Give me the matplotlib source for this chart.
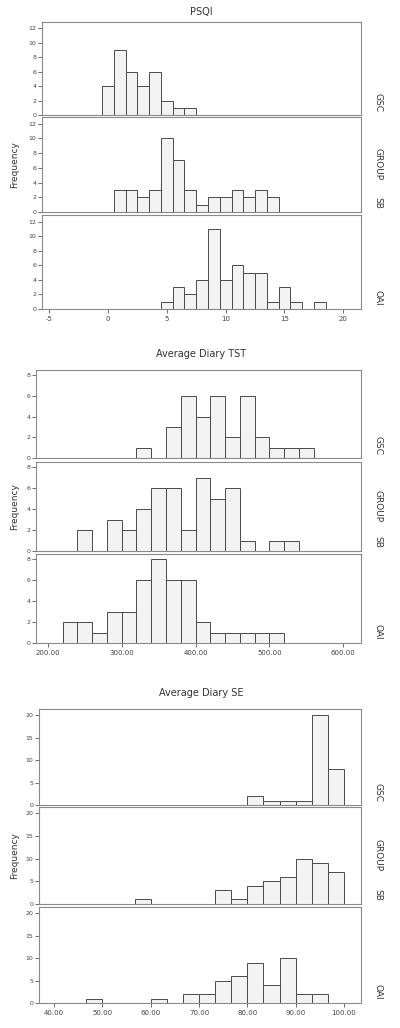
import matplotlib
matplotlib.use('Agg')
import matplotlib.pyplot as plt

groups = ['GSC', 'SB', 'OAI']

# PSQI, bins of width 1 centred on the integer scores
psqi_centers = [0, 1, 2, 3, 4, 5, 6, 7, 8, 9, 10, 11, 12, 13, 14, 15, 16, 17, 18]
psqi_gsc = [4, 9, 6, 4, 6, 2, 1, 1, 0, 0, 0, 0, 0, 0, 0, 0, 0, 0, 0]
psqi_sb = [0, 3, 3, 2, 3, 10, 7, 3, 1, 2, 2, 3, 2, 3, 2, 0, 0, 0, 0]
psqi_oai = [0, 0, 0, 0, 0, 1, 3, 2, 4, 11, 4, 6, 5, 5, 1, 3, 1, 0, 1]

# Average diary TST, left bin edges (width 20)
tst_left = [220, 240, 260, 280, 300, 320, 340, 360, 380, 400, 420, 440, 460, 480, 500, 520, 540]
tst_gsc = [0, 0, 0, 0, 0, 1, 0, 3, 6, 4, 6, 2, 6, 2, 1, 1, 1]
tst_sb = [0, 2, 0, 3, 2, 4, 6, 6, 2, 7, 5, 6, 1, 0, 1, 1, 0]
tst_oai = [2, 2, 1, 3, 3, 6, 8, 6, 6, 2, 1, 1, 1, 1, 1, 0, 0]

# Average diary SE, left bin edges (width 10/3)
se_left = [46.667, 50.0, 53.333, 56.667, 60.0, 63.333, 66.667, 70.0, 73.333,
           76.667, 80.0, 83.333, 86.667, 90.0, 93.333, 96.667]
se_gsc = [0, 0, 0, 0, 0, 0, 0, 0, 0, 0, 2, 1, 1, 1, 20, 8]
se_sb = [0, 0, 0, 1, 0, 0, 0, 0, 3, 1, 4, 5, 6, 10, 9, 7]
se_oai = [1, 0, 0, 0, 1, 0, 2, 2, 5, 6, 9, 4, 10, 2, 2, 0]

psqi_xticks = [-5, 0, 5, 10, 15, 20]
tst_xticks = [200, 300, 400, 500, 600]
se_xticks = [40, 50, 60, 70, 80, 90, 100]

W, H = 400, 1028
fig = plt.figure(figsize=(W / 100, H / 100), dpi=100)
fig.patch.set_facecolor('white')

bar_kw = dict(color='#f3f3f3', edgecolor='#4a4a4a', linewidth=0.7)
spine_c = '#8a8a8a'


def panel(x0, x1, y0, y1):
    return fig.add_axes([x0 / W, 1 - y1 / H, (x1 - x0) / W, (y1 - y0) / H])


def style(ax, xlim, ylim, yticks, xticks, fmt, last):
    ax.set_xlim(*xlim)
    ax.set_ylim(*ylim)
    ax.set_yticks(yticks)
    ax.set_xticks(xticks)
    for s in ax.spines.values():
        s.set_color(spine_c)
        s.set_linewidth(0.8)
    ax.tick_params(axis='y', length=3, width=0.6, color='#555', labelsize=4.5,
                   labelcolor='#444', pad=1)
    ax.tick_params(axis='x', length=3 if last else 0, width=0.6, color='#555',
                   labelsize=5, labelcolor='#444', pad=2, labelbottom=last)
    if last:
        ax.set_xticklabels([fmt(v) for v in xticks])


def block(title, title_y, x0, rows, data, xs, width, align, xlim, ylim,
          yticks, xticks, fmt):
    for i, (y0, y1) in enumerate(rows):
        ax = panel(x0, 361, y0, y1)
        ax.bar(xs, data[i], width=width, align=align, **bar_kw)
        style(ax, xlim, ylim, yticks, xticks, fmt, i == 2)
        mid = (y0 + y1) / 2
        fig.text(378 / W, 1 - (y1 - 3) / H, groups[i], rotation=270,
                 ha='center', va='bottom', fontsize=6.5, color='#333')
        if i == 1:
            fig.text(15 / W, 1 - mid / H, 'Frequency', rotation=90,
                     ha='center', va='center', fontsize=6.5, color='#333')
            fig.text(378 / W, 1 - mid / H, 'GROUP', rotation=270,
                     ha='center', va='center', fontsize=6.5, color='#333')
    fig.text(201 / W, 1 - title_y / H, title, ha='center', va='center',
             fontsize=7, color='#333')


block('PSQI', 12, 42, [(22, 115), (117, 212), (215, 309)],
      [psqi_gsc, psqi_sb, psqi_oai], psqi_centers, 1, 'center',
      (-5.6, 21.5), (0, 12.9), [0, 2, 4, 6, 8, 10, 12], psqi_xticks,
      lambda v: str(v))

block('Average Diary TST', 354, 36, [(370, 458), (462, 551), (554, 643)],
      [tst_gsc, tst_sb, tst_oai], tst_left, 20, 'edge',
      (184, 624), (0, 8.5), [0, 2, 4, 6, 8], tst_xticks,
      lambda v: '%.2f' % v)

block('Average Diary SE', 693, 39, [(709, 805), (807, 904), (907, 1003)],
      [se_gsc, se_sb, se_oai], se_left, 10 / 3, 'edge',
      (36.9, 103.5), (0, 21.4), [0, 5, 10, 15, 20], se_xticks,
      lambda v: '%.2f' % v)

fig.savefig('out.png', dpi=100, facecolor='white')
